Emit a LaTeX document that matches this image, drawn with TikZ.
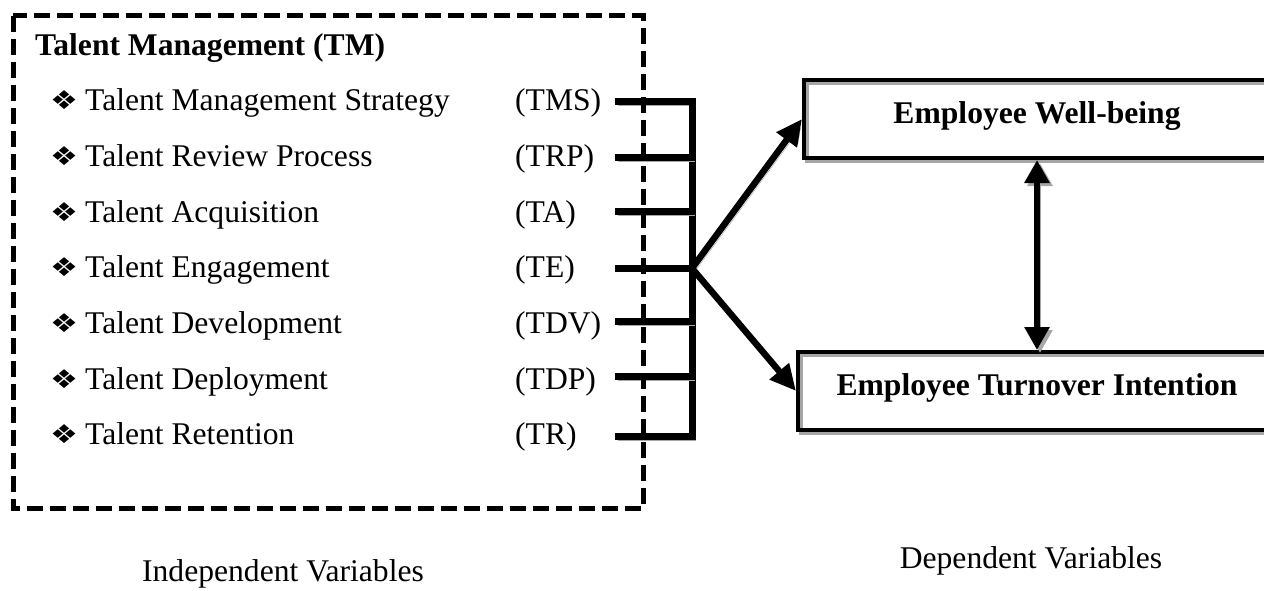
\documentclass[tikz,border=0pt]{standalone}
\usepackage{fontspec}
\setmainfont{Liberation Serif}
\newfontfamily\bulletfont{DejaVu Sans}
\usetikzlibrary{arrows.meta}
\newcommand{\diabullet}{\raisebox{1pt}{\scalebox{1.2}[1]{\bulletfont\fontsize{26pt}{26pt}\selectfont ❖}}}
\begin{document}
\begin{tikzpicture}[x=1pt,y=-1pt,
  txt/.style={font=\fontsize{31.6pt}{38pt}\selectfont, inner sep=0pt},
  btxt/.style={font=\fontsize{31.6pt}{38pt}\selectfont\bfseries, inner sep=0pt},
  sh/.style={preaction={draw=black!35, transform canvas={xshift=3pt,yshift=-3pt}}},
  barline/.style={line width=7pt, line join=miter, sh},
  arr/.style={line width=6.5pt, sh, -{Triangle[length=26pt,width=24pt]}},
  darr/.style={line width=6pt, sh, {Triangle[length=23pt,width=24pt]}-{Triangle[length=23pt,width=24pt]}},
  bx/.style={draw, line width=4pt, sh, minimum height=78pt, inner sep=0pt,
    text height=12pt, text depth=4pt, btxt},
  dashbox/.style={line width=5pt, dash pattern=on 16pt off 7pt}
]
\fill[white] (0,0) rectangle (1264,590);
\useasboundingbox (0,0) rectangle (1264,590);

% title
\node[btxt, anchor=base west] (tm) at (35,55) {Talent Management (TM)};

% items
\foreach \n/\lab/\ab/\ys in {1/Talent Management Strategy/TMS/101.7,
  2/Talent Review Process/TRP/157.7, 3/Talent Acquisition/TA/211.7,
  4/Talent Engagement/TE/268.3, 5/Talent Development/TDV/321.7,
  6/Talent Deployment/TDP/376.7, 7/Talent Retention/TR/436.7}{
  \pgfmathsetmacro\yb{110.7+55.7*(\n-1)}
  \node[txt, anchor=base west] (i\n) at (50,\yb)
    {\makebox[35pt][l]{\diabullet}\lab};
  \node[txt, anchor=base west] (a\n) at (515,\yb) {(\ab)};
  \coordinate (s\n) at (615,\ys);
  \coordinate (c\n) at (692,\ys);
}

% stubs and bar
\draw[barline] (s1) -- (c1) -- (c7) -- (s7);
\foreach \n in {2,...,6}{\draw[barline] (s\n) -- (c\n);}

% dashed box
\draw[dashbox] (13,15.5) rectangle (643,508);

% dependent variable boxes
\node[bx, minimum width=466pt] (b1) at (1037,119) {Employee Well-being};
\node[bx, minimum width=478pt] (b2) at (1037,391) {Employee Turnover Intention};

% arrows
\draw[arr] (c4) -- (b1.west);
\draw[arr] (c4) -- (b2.west);
\draw[darr] (b1.south) -- (b2.north);

% captions
\node[txt, anchor=base] (iv) at (283,581) {Independent Variables};
\node[txt, anchor=base] (dv) at (1031,568) {Dependent Variables};
\end{tikzpicture}
\end{document}
